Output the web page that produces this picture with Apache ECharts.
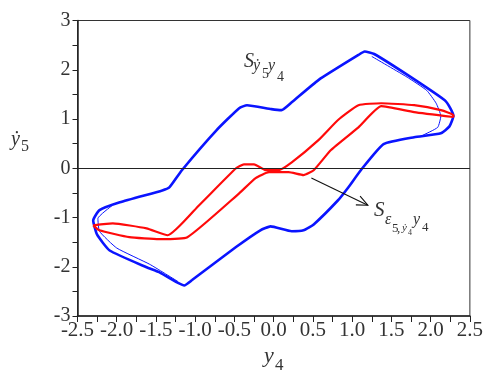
<!DOCTYPE html>
<html>
<head>
<meta charset="utf-8">
<script src="https://cdn.jsdelivr.net/npm/echarts@6/dist/echarts.min.js"></script>
<style>
  html, body { margin: 0; padding: 0; background: #fff; }
  #chart { width: 486px; height: 374px; }
</style>
</head>
<body>
<div id="chart"></div>
<script>
// Phase portrait: y5-dot against y4 (blue) and the epsilon-based response (red)
const xRange = [-2.5, 2.5];
const yRange = [-3, 3];

// Blue loop S(y5dot, y4), traced clockwise from the upper peak
const blueLoop = [
  [1.08, 2.30], [1.16, 2.37], [1.28, 2.32], [1.70, 1.90], [2.18, 1.38],
  [2.25, 1.22], [2.29, 1.06], [2.24, 0.85], [2.13, 0.71], [1.79, 0.63],
  [1.40, 0.49], [1.11, -0.04], [0.95, -0.39], [0.82, -0.65], [0.51, -1.14],
  [0.38, -1.26], [0.23, -1.28], [-0.04, -1.18], [-0.17, -1.26], [-0.48, -1.60],
  [-1.04, -2.27], [-1.14, -2.38], [-1.46, -2.11], [-1.62, -2.01], [-2.09, -1.67],
  [-2.25, -1.35], [-2.30, -1.06], [-2.22, -0.85], [-1.96, -0.69], [-1.42, -0.45],
  [-1.33, -0.39], [-1.17, -0.04], [-0.73, 0.77], [-0.44, 1.22], [-0.34, 1.28],
  [-0.03, 1.20], [0.10, 1.18], [0.23, 1.34], [0.57, 1.79], [1.08, 2.30]
];
// Thin inner passes near the two turning points
const blueInnerRight = [
  [1.25, 2.27], [1.70, 1.85], [1.95, 1.58], [2.07, 1.32], [2.13, 1.06],
  [2.09, 0.83], [1.90, 0.67]
];
const blueInnerLeft = [
  [-2.06, -0.76], [-2.24, -1.02], [-2.22, -1.28], [-2.00, -1.62],
  [-1.58, -1.95], [-1.22, -2.30]
];

// Red loop S(eps5, y4dot, y4)
const redLoop = [
  [-2.30, -1.16], [-2.05, -1.12], [-1.62, -1.22], [-1.35, -1.36], [-0.95, -0.75],
  [-0.48, 0.00], [-0.38, 0.08], [-0.25, 0.08], [-0.10, -0.04], [0.06, -0.04],
  [0.23, 0.12], [0.57, 0.57], [0.82, 0.98], [1.08, 1.28], [1.37, 1.32],
  [1.79, 1.28], [2.13, 1.18], [2.29, 1.08], [2.29, 1.04], [1.79, 1.14],
  [1.37, 1.26], [1.08, 0.83], [0.73, 0.37], [0.51, -0.04], [0.38, -0.14],
  [0.19, -0.08], [-0.06, -0.08], [-0.23, -0.20], [-0.44, -0.51], [-1.10, -1.40],
  [-1.46, -1.44], [-1.84, -1.40], [-2.22, -1.26], [-2.30, -1.16]
];

// Arrow from the red loop towards its label
const arrowFrom = [0.48, -0.20];
const arrowTo = [1.20, -0.75];

const SERIF = 'Liberation Serif';
const TEXT = '#333';

const chart = echarts.init(document.getElementById('chart'), null, { renderer: 'canvas' });

function loopSeries(data, color, width) {
  return {
    type: 'line',
    data: data,
    showSymbol: false,
    smooth: 0.15,
    lineStyle: { color: color, width: width },
    z: 3,
    silent: true,
    animation: false
  };
}

chart.setOption({
  animation: false,
  textStyle: { fontFamily: SERIF },
  grid: {
    left: 77.5, right: 14, top: 20.5, bottom: 58,
    show: true, borderColor: '#333', borderWidth: 1, backgroundColor: 'transparent'
  },
  xAxis: {
    type: 'value', min: xRange[0], max: xRange[1], interval: 0.5,
    axisLine: { show: true, onZero: false, lineStyle: { color: '#222', width: 1.5 } },
    axisTick: { show: true, inside: false, length: 6, lineStyle: { color: '#222', width: 1 } },
    minorTick: { show: true, splitNumber: 2, length: 6, lineStyle: { color: '#222', width: 1 } },
    splitLine: { show: false },
    axisLabel: {
      color: TEXT, fontFamily: SERIF, fontSize: 21, margin: 4,
      formatter: v => v.toFixed(1)
    }
  },
  yAxis: {
    type: 'value', min: yRange[0], max: yRange[1], interval: 1,
    axisLine: { show: true, onZero: false, lineStyle: { color: '#222', width: 1.5 } },
    axisTick: { show: true, inside: false, length: 5, lineStyle: { color: '#222', width: 1 } },
    minorTick: { show: true, splitNumber: 2, length: 5, lineStyle: { color: '#222', width: 1 } },
    splitLine: { show: false },
    axisLabel: {
      color: TEXT, fontFamily: SERIF, fontSize: 20, margin: 7,
      formatter: v => String(v)
    }
  },
  series: [
    Object.assign(loopSeries(blueLoop, '#0a14ff', 2.6), {
      markLine: {
        silent: true, symbol: 'none', animation: false,
        label: { show: false },
        lineStyle: { color: '#222', width: 1.2, type: 'solid' },
        data: [{ yAxis: 0 }]
      }
    }),
    loopSeries(blueInnerRight, '#0a14ff', 1),
    loopSeries(blueInnerLeft, '#0a14ff', 1),
    loopSeries(redLoop, '#ff0a0a', 2.2)
  ]
});

// Annotations: arrow and math-style labels
function px(p) { return chart.convertToPixel({ gridIndex: 0 }, p); }
const a0 = px(arrowFrom), a1 = px(arrowTo);
const ang = Math.atan2(a1[1] - a0[1], a1[0] - a0[0]);
const head = 12, spread = 0.42;
const h1 = [a1[0] - head * Math.cos(ang - spread), a1[1] - head * Math.sin(ang - spread)];
const h2 = [a1[0] - head * Math.cos(ang + spread), a1[1] - head * Math.sin(ang + spread)];

function txt(str, x, y, size, italic) {
  return {
    type: 'text', silent: true, z: 10,
    style: {
      text: str, x: x, y: y,
      font: (italic ? 'italic ' : '') + size + 'px ' + SERIF,
      fill: TEXT, textAlign: 'left', textVerticalAlign: 'middle',
      align: 'left', verticalAlign: 'middle'
    }
  };
}

const ydot = '\u1e8f';

chart.setOption({
  graphic: [
    { type: 'line', silent: true, z: 10,
      shape: { x1: a0[0], y1: a0[1], x2: a1[0], y2: a1[1] },
      style: { stroke: '#111', lineWidth: 1.1 } },
    { type: 'polyline', silent: true, z: 10,
      shape: { points: [h1, a1, h2] },
      style: { stroke: '#111', lineWidth: 1.1, fill: null } },

    // S_{y5dot y4}
    txt('S', 244, 62, 20, true),
    txt(ydot, 253, 66, 16, true),
    txt('5', 262, 74, 14, false),
    txt('y', 268, 66, 16, true),
    txt('4', 277, 77, 14, false),

    // S_{eps5, y4dot y4}
    txt('S', 374, 210, 21, true),
    txt('\u03b5', 385, 220, 16, true),
    txt('5', 392, 228.5, 13, false),
    txt(',', 397, 229, 13, false),
    txt(ydot, 402, 228, 11, true),
    txt('4', 408, 233, 8, false),
    txt('y', 413, 220, 16, true),
    txt('4', 422, 227.5, 13, false),

    // axis names
    txt(ydot, 11, 140, 20, true),
    txt('5', 21, 146.5, 16, false),
    txt('y', 264, 356.5, 22, true),
    txt('4', 275, 366, 17, false)
  ]
});
</script>
</body>
</html>
